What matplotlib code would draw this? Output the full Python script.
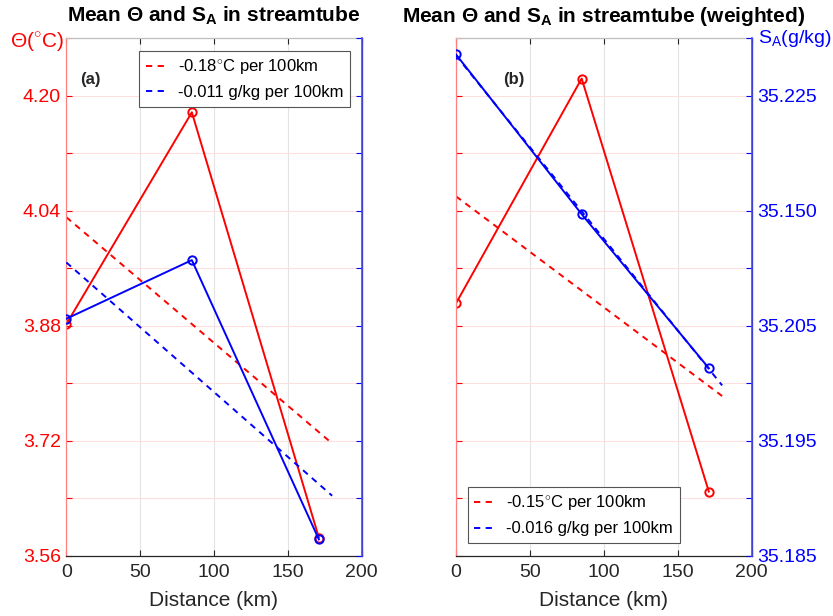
import matplotlib
matplotlib.use('Agg')
import matplotlib.pyplot as plt
from matplotlib.lines import Line2D

plt.rcParams['font.family'] = ['Liberation Sans', 'DejaVu Sans']
plt.rcParams['mathtext.fontset'] = 'custom'
plt.rcParams['mathtext.rm'] = 'Liberation Sans'
plt.rcParams['mathtext.bf'] = 'Liberation Sans:bold'

# distance of the three sections (km)
dist = [0, 85, 171]

# panel (a): plain means
theta_a = [3.882, 4.177, 3.585]
salt_a = [35.2056, 35.2107, 35.1864]
# panel (b): weighted means
theta_b = [3.911, 4.224, 3.649]
salt_b = [35.2286, 35.2147, 35.2013]

# trend lines (end points at 0 and 180 km)
trend_x = [0, 180]
theta_trend_a = [4.031, 3.716]
salt_trend_a = [35.2105, 35.1902]
theta_trend_b = [4.060, 3.782]
salt_trend_b = [35.2285, 35.1998]

legend_a = ['-0.18$^{\\circ}$C per 100km', '-0.011 g/kg per 100km']
legend_b = ['-0.15$^{\\circ}$C per 100km', '-0.016 g/kg per 100km']

theta_ticks = [3.56, 3.64, 3.72, 3.80, 3.88, 3.96, 4.04, 4.12, 4.20, 4.28]
theta_labels = ['3.56', '', '3.72', '', '3.88', '', '4.04', '', '4.20', '']
salt_ticks = [35.185, 35.190, 35.195, 35.200, 35.205, 35.210, 35.215, 35.220, 35.225, 35.230]
salt_labels = ['35.185', '', '35.195', '', '35.205', '', '35.150', '', '35.225', '']
x_ticks = [0, 50, 100, 150, 200]

RED = '#ff0000'
BLUE = '#0000ff'
DARK = '#262626'
DASH = (0, (3.2, 2.8))


def make_panel(fig, rect, theta, salt, th_tr, sa_tr, labels, title, tag, tag_x,
               show_left, show_right, leg_loc, leg_anchor):
    ax = fig.add_axes(rect)
    ax2 = ax.twinx()

    ax.set_xlim(0, 200)
    ax.set_ylim(3.56, 4.28)
    ax2.set_ylim(35.185, 35.23)
    ax.set_xticks(x_ticks)
    ax.set_yticks(theta_ticks)
    ax2.set_yticks(salt_ticks)
    ax.set_yticklabels(theta_labels if show_left else [''] * len(theta_ticks))
    ax2.set_yticklabels(salt_labels if show_right else [''] * len(salt_ticks))

    # grid
    ax.grid(axis='x', color='#e3e3e3', linewidth=0.8)
    ax.grid(axis='y', color='#ffdede', linewidth=0.8)
    ax.set_axisbelow(True)

    ax.tick_params(axis='x', direction='in', length=4, colors=DARK, labelsize=14,
                   top=True, pad=6)
    ax.tick_params(axis='y', direction='in', length=4, colors=RED, labelsize=14, pad=4)
    ax2.tick_params(axis='y', direction='in', length=4, colors=BLUE, labelsize=14, pad=4)

    ax.spines['left'].set_color('#ff8080')
    ax.spines['bottom'].set_color(DARK)
    ax.spines['top'].set_color('#bfbfbf')
    ax2.spines['right'].set_color('#4d4dff')
    ax2.spines['left'].set_visible(False)
    ax2.spines['top'].set_visible(False)
    ax2.spines['bottom'].set_visible(False)
    for sp in ax.spines.values():
        sp.set_linewidth(0.9)
    ax2.spines['right'].set_linewidth(1.2)

    ax.plot(dist, theta, color=RED, linewidth=1.4, marker='o', markersize=6,
            markerfacecolor='none', markeredgewidth=1.4)
    ax.plot(trend_x, th_tr, color=RED, linewidth=1.4, linestyle=DASH)
    ax2.plot(dist, salt, color=BLUE, linewidth=1.4, marker='o', markersize=6,
             markerfacecolor='none', markeredgewidth=1.4)
    ax2.plot(trend_x, sa_tr, color=BLUE, linewidth=1.4, linestyle=DASH)

    ax.set_xlabel('Distance (km)', fontsize=15, color=DARK, labelpad=7)
    ax.set_title(title, fontsize=15, fontweight='bold', pad=12)
    ax.text(tag_x, 0.92, tag, transform=ax.transAxes, fontsize=12,
            fontweight='bold', color=DARK, va='center')

    handles = [Line2D([], [], color=RED, linewidth=1.4, linestyle=DASH),
               Line2D([], [], color=BLUE, linewidth=1.4, linestyle=DASH)]
    leg = ax2.legend(handles, labels, loc=leg_loc, bbox_to_anchor=leg_anchor,
                     fontsize=12, fancybox=False, framealpha=1, edgecolor='#555555',
                     handlelength=1.35, handletextpad=0.55, borderpad=0.4,
                     borderaxespad=0, labelspacing=0.5, handleheight=0.7)
    leg.get_frame().set_linewidth(0.8)
    return ax, ax2


fig = plt.figure(figsize=(8.33, 6.16), dpi=100)

axa, axa2 = make_panel(fig, [0.0796, 0.0982, 0.3546, 0.8396], theta_a, salt_a,
                       theta_trend_a, salt_trend_a, legend_a,
                       'Mean \u0398 and S$_{\\mathbf{A}}$ in streamtube', '(a)', 0.046,
                       True, False, 'upper right', (0.96, 0.976))
axb, axb2 = make_panel(fig, [0.5474, 0.0982, 0.355, 0.8396], theta_b, salt_b,
                       theta_trend_b, salt_trend_b, legend_b,
                       'Mean \u0398 and S$_{\\mathbf{A}}$ in streamtube (weighted)', '(b)', 0.159,
                       False, True, 'lower left', (0.04, 0.024))

axa.text(-0.19, 0.993, '\u0398($^{\\circ}$C)', transform=axa.transAxes, color=RED,
         fontsize=15, ha='left', va='center')
axb2.text(1.021, 1.0, 'S$_{\\mathrm{A}}$(g/kg)', transform=axb2.transAxes, color=BLUE,
          fontsize=14, ha='left', va='center')

fig.savefig('out.png', dpi=100)
